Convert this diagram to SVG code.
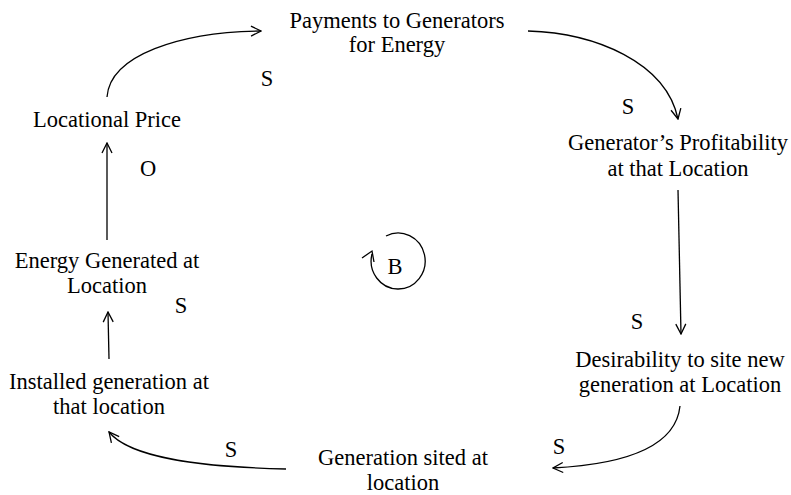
<svg xmlns="http://www.w3.org/2000/svg" width="791" height="495" viewBox="0 0 791 495">
  <style>
    text { font-family: "Liberation Serif", "Times New Roman", serif; font-size: 22.5px; fill: #000; }
    .node text { text-anchor: middle; }
    .link { fill: none; stroke: #000; stroke-width: 1.3; marker-end: url(#arrow); }
  </style>
  <defs>
    <marker id="arrow" viewBox="0 0 12 12" refX="11" refY="6" markerWidth="12" markerHeight="12" markerUnits="userSpaceOnUse" orient="auto">
      <path d="M1,1 L11,6 L1,11" fill="none" stroke="#000" stroke-width="1.3"/>
    </marker>
  </defs>
  <rect width="791" height="495" fill="#fff"/>

  <g id="connectors">
    <path class="link" d="M107,97 C110,55 180,32 261,31"/>
    <path class="link" d="M528,31 C595,33 666,62 678,119"/>
    <path class="link" d="M678,190 L681,334"/>
    <path class="link" d="M680,406 C676,445 630,464 553,468"/>
    <path class="link" d="M286,469 C200,467 130,458 109,432"/>
    <path class="link" d="M109,359 L108,312"/>
    <path class="link" d="M107,240 L107,143"/>
  </g>

  <g id="polarity">
    <text x="267" y="86" text-anchor="middle">S</text>
    <text x="628" y="114" text-anchor="middle">S</text>
    <text x="148" y="176" text-anchor="middle">O</text>
    <text x="181" y="313" text-anchor="middle">S</text>
    <text x="637" y="329" text-anchor="middle">S</text>
    <text x="231" y="457" text-anchor="middle">S</text>
    <text x="559" y="454" text-anchor="middle">S</text>
  </g>

  <g id="loop-balancing">
    <path d="M386,236 A27,28 0 1 1 372,254" fill="none" stroke="#000" stroke-width="1.3"/>
    <path d="M362,258 L372,251 L374,262" fill="none" stroke="#000" stroke-width="1.3"/>
    <text x="395" y="274" text-anchor="middle">B</text>
  </g>

  <g id="payments" class="node">
    <text x="397" y="28">Payments to Generators</text>
    <text x="397" y="52">for Energy</text>
  </g>
  <g id="profitability" class="node">
    <text x="678" y="150">Generator’s Profitability</text>
    <text x="678" y="176">at that Location</text>
  </g>
  <g id="desirability" class="node">
    <text x="680" y="367">Desirability to site new</text>
    <text x="680" y="392">generation at Location</text>
  </g>
  <g id="generation-sited" class="node">
    <text x="403" y="465">Generation sited at</text>
    <text x="403" y="490">location</text>
  </g>
  <g id="installed" class="node">
    <text x="109" y="389">Installed generation at</text>
    <text x="109" y="414">that location</text>
  </g>
  <g id="energy-generated" class="node">
    <text x="107" y="268">Energy Generated at</text>
    <text x="107" y="293">Location</text>
  </g>
  <g id="locational-price" class="node">
    <text x="107" y="127">Locational Price</text>
  </g>
</svg>
